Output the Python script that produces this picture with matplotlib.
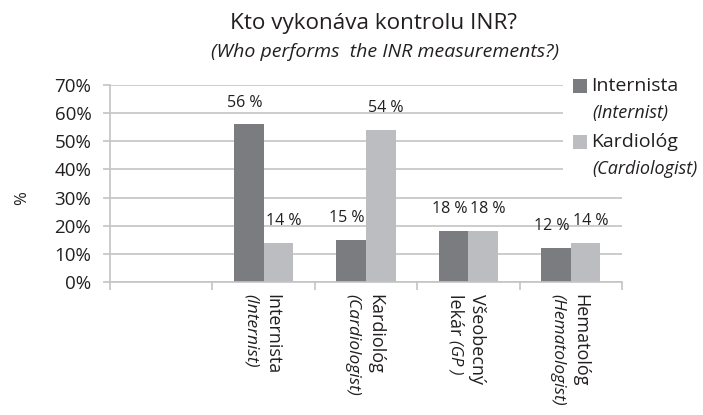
import matplotlib
matplotlib.use('Agg')
import matplotlib.pyplot as plt
from matplotlib.patches import Rectangle
from matplotlib.ticker import PercentFormatter, FixedLocator
import numpy as np

plt.rcParams['font.family'] = ['Open Sans', 'DejaVu Sans']

categories = ['', 'Internista', 'Kardiológ', 'Všeobecný', 'Hematológ']
categories_line2 = ['', '', '', 'lekár ', '']
categories_en = ['', '(Internist)', '(Cardiologist)', '(GP )', '(Hematologist)']
internist_vals = [np.nan, 56, 15, 18, 12]
cardio_vals = [np.nan, 14, 54, 18, 14]
series_names = ['Internista', 'Kardiológ']
series_en = ['(Internist)', '(Cardiologist)']

DARK = '#7b7c80'
LIGHT = '#bcbdc1'
GRID = '#c4c4c4'
TEXT = '#231f20'

fig = plt.figure(figsize=(7.03, 4.15), dpi=100)
ax = fig.add_axes([110 / 703, 1 - 282 / 415, 512 / 703, 197 / 415])

x = np.arange(len(categories))
w = 0.29
ax.bar(x - w / 2, internist_vals, w, color=DARK, zorder=2)
ax.bar(x + w / 2, cardio_vals, w, color=LIGHT, zorder=2)

# data labels (Excel pushes them a bit apart)
for vals, off, dx in [(internist_vals, -w / 2, -3), (cardio_vals, w / 2, 3.5)]:
    for xi, v in zip(x, vals):
        if np.isnan(v):
            continue
        ax.annotate(f'{v:.0f} %', (xi + off, v), xytext=(dx, 10), textcoords='offset points',
                    ha='center', va='bottom', fontsize=11.5, color=TEXT)

ax.set_xlim(-0.5, len(categories) - 0.5)
ax.set_ylim(0, 70)
ax.yaxis.set_major_locator(FixedLocator(np.arange(0, 71, 10)))
ax.yaxis.set_major_formatter(PercentFormatter(decimals=0))
ax.grid(axis='y', color=GRID, linewidth=1.2, zorder=0)
ax.set_axisbelow(True)
for s in ['top', 'right']:
    ax.spines[s].set_visible(False)
for s in ['left', 'bottom']:
    ax.spines[s].set_color(GRID)
    ax.spines[s].set_linewidth(1.2)
ax.tick_params(axis='y', length=5, color=GRID, width=1.2, labelsize=13.5, labelcolor=TEXT, pad=8.5)
ax.set_xticks(x)
ax.set_xticklabels([])
ax.tick_params(axis='x', which='major', length=0)
ax.set_xticks(np.arange(-0.5, len(categories), 1), minor=True)
ax.tick_params(axis='x', which='minor', length=6, color=GRID, width=1.2)

# category labels, rotated
for xi, name, l2, en in zip(x, categories, categories_line2, categories_en):
    if not name:
        continue
    ax.annotate(name, (xi, 0), xycoords=('data', 'axes fraction'), xytext=(6.5, -9),
                textcoords='offset points', rotation=270, ha='center', va='top',
                fontsize=13, color=TEXT, annotation_clip=False)
    if l2:
        t2 = ax.annotate(l2, (xi, 0), xycoords=('data', 'axes fraction'), xytext=(-9.5, -9),
                         textcoords='offset points', rotation=270, ha='center', va='top',
                         fontsize=13, color=TEXT, annotation_clip=False)
        ax.annotate(en, (0.5, 0), xycoords=t2, xytext=(0, 0), textcoords='offset points',
                    rotation=270, ha='center', va='top', fontsize=12, style='italic',
                    color=TEXT, annotation_clip=False)
    else:
        ax.annotate(en, (xi, 0), xycoords=('data', 'axes fraction'), xytext=(-9.5, -9),
                    textcoords='offset points', rotation=270, ha='center', va='top',
                    fontsize=12.5, style='italic', color=TEXT, annotation_clip=False)

fig.text(22 / 703, 1 - 198 / 415, '%', rotation=90, ha='center', va='center', fontsize=12, color=TEXT)

# titles
fig.text(374 / 703, 1 - 23 / 415, 'Kto vykonáva kontrolu INR?', ha='center', va='center',
         fontsize=16.2, color=TEXT)
fig.text(385 / 703, 1 - 52 / 415, '(Who performs  the INR measurements?)', ha='center', va='center',
         fontsize=14, style='italic', color=TEXT)

# legend box (covers the grid like in the original)
fig.add_artist(Rectangle((563 / 703, 1 - 185 / 415), 140 / 703, 108 / 415, transform=fig.transFigure,
                         facecolor='white', edgecolor='none', zorder=1))
for i, (nm, en, c) in enumerate(zip(series_names, series_en, [DARK, LIGHT])):
    yc = 86 + i * 56
    fig.add_artist(Rectangle((573 / 703, 1 - (yc + 7) / 415), 14 / 703, 14 / 415,
                             transform=fig.transFigure, facecolor=c, edgecolor='none', zorder=2))
    fig.text(591 / 703, 1 - yc / 415, nm, ha='left', va='center', fontsize=14, color=TEXT, zorder=3)
    fig.text(592 / 703, 1 - (yc + 27) / 415, en, ha='left', va='center', fontsize=13,
             style='italic', color=TEXT, zorder=3)

fig.savefig('out.png', dpi=100, facecolor='white')
